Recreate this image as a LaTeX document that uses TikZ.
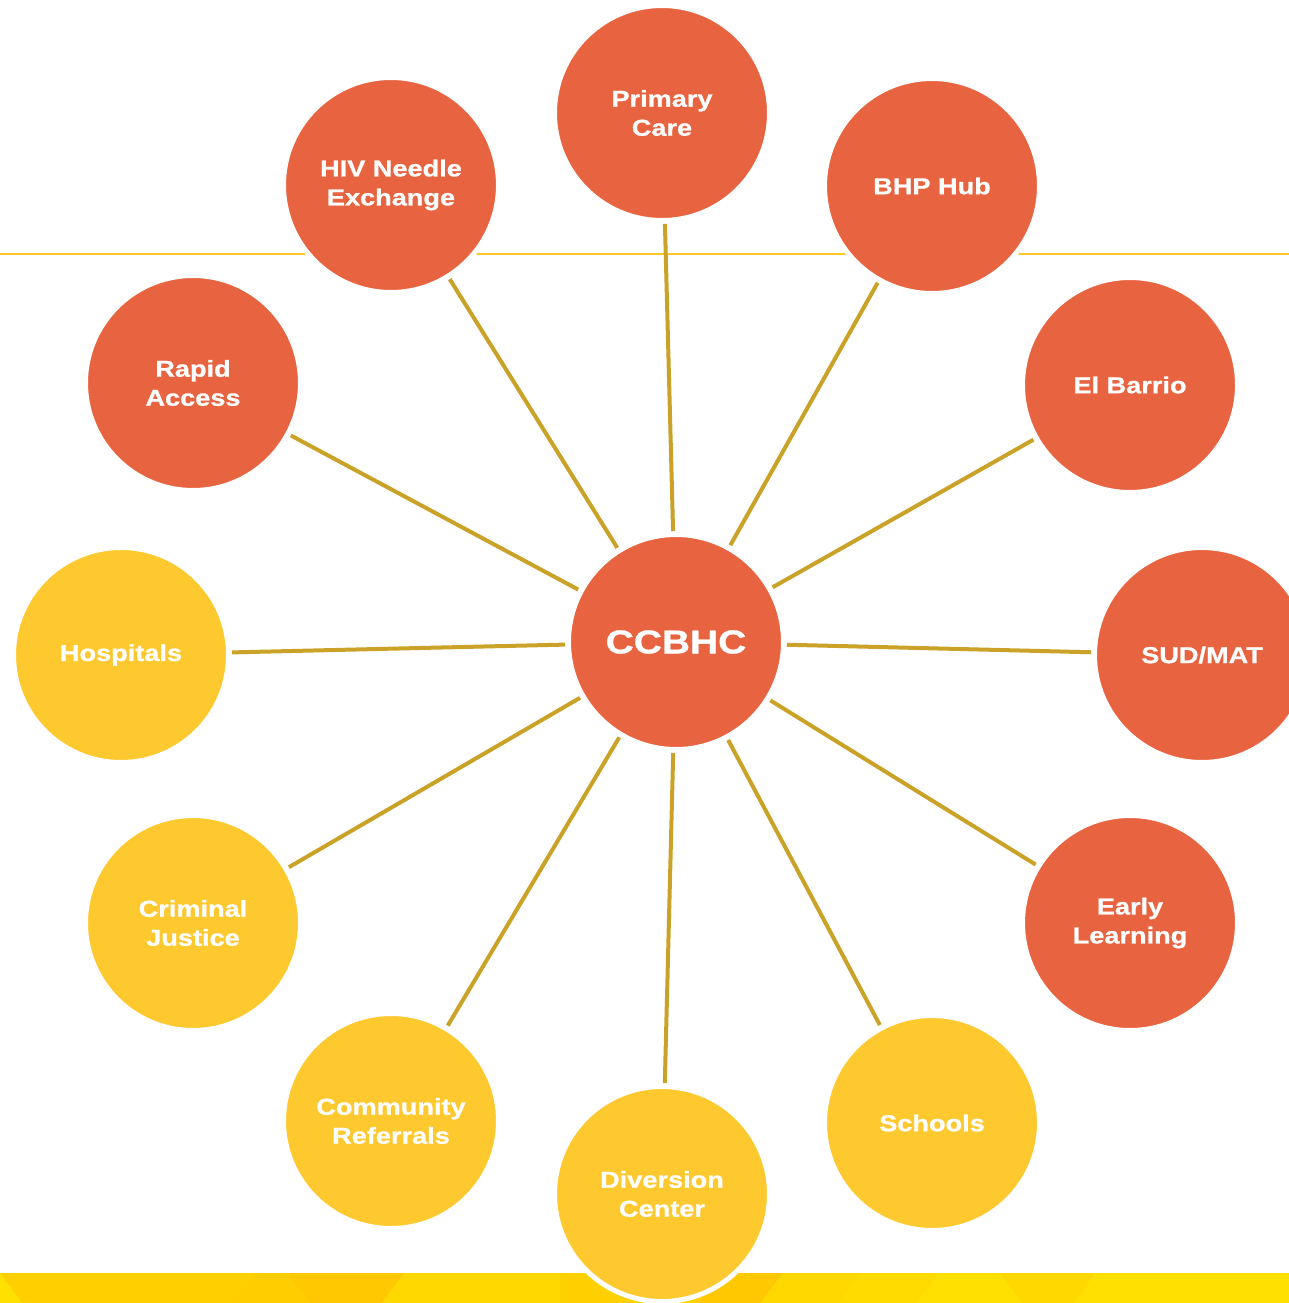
\documentclass[tikz,border=0pt]{standalone}
\usepackage{fontspec}
\newfontfamily\lblfont[FakeStretch=1.18,RawFeature={embolden=0.9}]{Liberation Sans Bold}
\definecolor{hubred}{RGB}{232,99,64}
\definecolor{sunyellow}{RGB}{254,201,47}
\definecolor{spoke}{RGB}{201,162,39}
\definecolor{rule}{RGB}{255,200,40}
\definecolor{bandA}{RGB}{255,208,0}
\definecolor{bandB}{RGB}{255,205,0}
\definecolor{bandC}{RGB}{255,200,0}
\definecolor{bandD}{RGB}{255,216,0}
\definecolor{bandE}{RGB}{255,224,0}
\begin{document}
\begin{tikzpicture}[x=1pt,y=-1pt,
  disc/.style={circle,minimum size=215pt,inner sep=0pt,draw=white,line width=5pt,
    text=white,align=center,font=\lblfont\fontsize{23}{29}\selectfont},
  service/.style={disc,fill=hubred},
  partner/.style={disc,fill=sunyellow},
  link/.style={draw=spoke,line width=4pt,shorten <=1pt,shorten >=1pt}]
\useasboundingbox (0,0) rectangle (1289,1303);
\clip (0,0) rectangle (1289,1303);

% thin rule across the upper part
\draw[rule,line width=2pt] (0,254) -- (1289,254);

% faceted band along the bottom
\fill[bandA] (0,1273) rectangle (1289,1303);
\fill[bandE] (0,1273) -- (22,1303) -- (0,1303) -- cycle;
\fill[bandB] (255,1273) -- (287,1273) -- (310,1303) -- (232,1303) -- cycle;
\fill[bandC] (287,1273) -- (404,1273) -- (382,1303) -- (310,1303) -- cycle;
\fill[bandD] (404,1273) -- (560,1273) -- (560,1303) -- (382,1303) -- cycle;
\fill[bandC] (700,1273) -- (783,1273) -- (760,1303) -- (700,1303) -- cycle;
\fill[bandD] (783,1273) -- (860,1273) -- (838,1303) -- (760,1303) -- cycle;
\fill[bandD!60!bandE] (860,1273) -- (938,1273) -- (917,1303) -- (838,1303) -- cycle;
\fill[bandE] (938,1273) -- (1000,1273) -- (1022,1303) -- (917,1303) -- cycle;
\fill[bandD] (1000,1273) -- (1095,1273) -- (1073,1303) -- (1022,1303) -- cycle;
\fill[bandE] (1095,1273) -- (1289,1273) -- (1289,1303) -- (1073,1303) -- cycle;

% hub
\node[service,font=\lblfont\fontsize{33}{38}\selectfont] (hub) at (676,642) {CCBHC};

% services
\node[service] (pc)     at (662,113)  {Primary\\Care};
\node[service] (hiv)    at (391,185)  {HIV Needle\\Exchange};
\node[service] (bhp)    at (932,186)  {BHP Hub};
\node[service] (rapid)  at (193,383)  {Rapid\\Access};
\node[service] (barrio) at (1130,385) {El Barrio};
\node[service] (sud)    at (1202,655) {SUD/MAT};
\node[service] (early)  at (1130,923) {Early\\Learning};

% partners
\node[partner] (hosp)    at (121,655)  {Hospitals};
\node[partner] (cj)      at (193,923)  {Criminal\\Justice};
\node[partner] (comm)    at (391,1121) {Community\\Referrals};
\node[partner] (div)     at (662,1194) {Diversion\\Center};
\node[partner] (schools) at (932,1123) {Schools};

% spokes
\foreach \n in {pc,hiv,bhp,rapid,barrio,sud,early,hosp,cj,comm,div,schools}
  \draw[link] (hub) -- (\n);
\end{tikzpicture}
\end{document}
